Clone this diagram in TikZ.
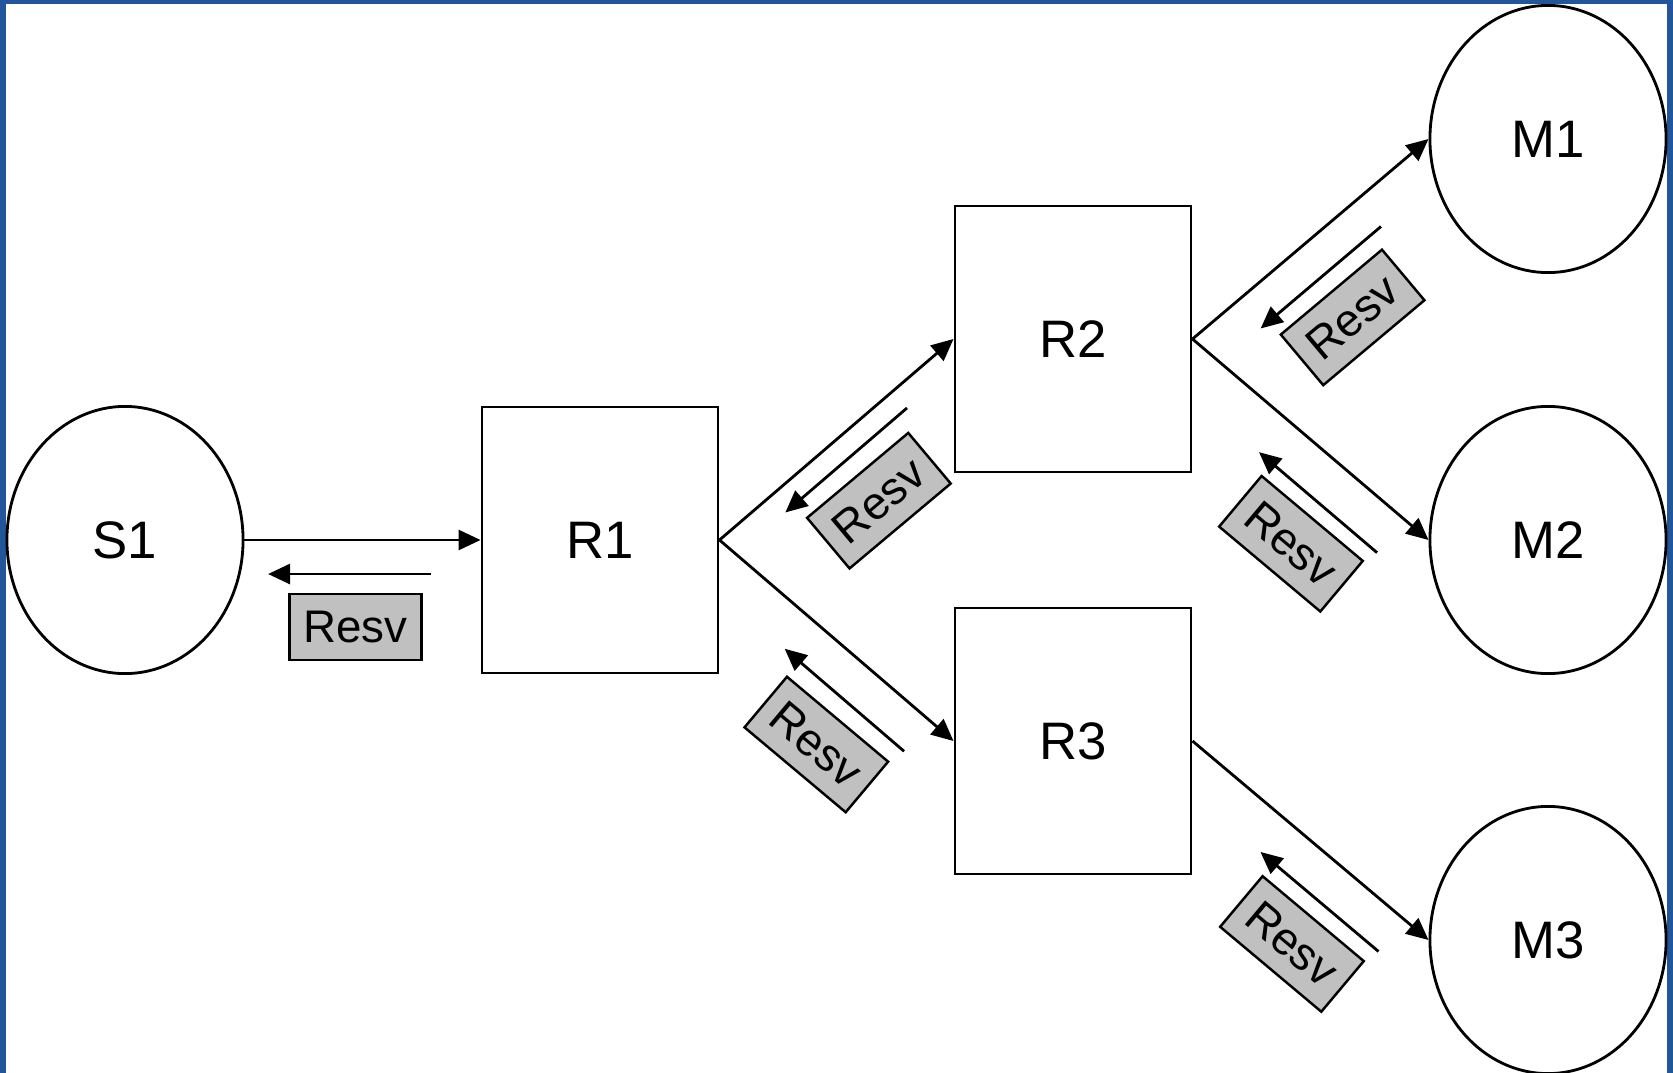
\documentclass[tikz,border=0pt]{standalone}
\usepackage{fontspec}
\setmainfont{Liberation Sans}
\usetikzlibrary{shapes.geometric,arrows.meta,calc}
\definecolor{FrameBlue}{HTML}{22559A}
\definecolor{ResvGray}{HTML}{C0C0C0}

\begin{document}
\begin{tikzpicture}[
  x=0.01cm,y=-0.01cm,
  host/.style={ellipse,draw,line width=0.8pt,minimum width=2.36cm,minimum height=2.67cm,
               inner sep=0pt,font=\fontsize{15}{18}\selectfont},
  router/.style={rectangle,draw,line width=0.8pt,minimum width=2.36cm,minimum height=2.66cm,
                 inner sep=0pt,font=\fontsize{15}{18}\selectfont},
  resv/.style={rectangle,draw,fill=ResvGray,line width=0.7pt,minimum width=1.32cm,
               minimum height=0.66cm,inner sep=0pt,font=\fontsize{13}{15}\selectfont},
  link/.style={line width=0.8pt,-{Triangle[length=0.22cm,width=0.2cm]}}
]
% frame
\fill[FrameBlue] (0,0) rectangle (1673,1073);
\fill[white] (6,4) rectangle (1667,1073);
\useasboundingbox (0,0) rectangle (1673,1073);

% sender, routers, receivers
\node[host] (s1) at (125,540) {S1};
\node[router] (r1) at (600,540) {R1};
\node[router] (r2) at (1073,339) {R2};
\node[router] (r3) at (1073,741) {R3};
\node[host] (m1) at (1548,139) {M1};
\node[host] (m2) at (1548,540) {M2};
\node[host] (m3) at (1548,940) {M3};

% path messages
\draw[link] (s1.east) -- (r1.west);
\draw[link] (r1.east) -- (r2.west);
\draw[link] (r1.east) -- (r3.west);
\draw[link] (r2.east) -- (m1.west);
\draw[link] (r2.east) -- (m2.west);
\draw[link] (r3.east) -- (m3.west);

% reservations going back
\draw[link] ($(s1.east)!.79!(r1.west)!0.34cm!-90:(r1.west)$) -- ($(s1.east)!.10!(r1.west)!0.34cm!-90:(r1.west)$);
\node[resv] (q1) at ($(s1.east)!.47!(r1.west)!0.87cm!-90:(r1.west)$) {Resv};

\draw[link] ($(r1.east)!.74!(r2.west)!0.22cm!-90:(r2.west)$) -- ($(r1.east)!.22!(r2.west)!0.22cm!-90:(r2.west)$);
\node[resv,rotate=40] (q2) at ($(r1.east)!.475!(r2.west)!0.74cm!-90:(r2.west)$) {Resv};

\draw[link] ($(r1.east)!.90!(r3.west)!0.40cm!-90:(r3.west)$) -- ($(r1.east)!.39!(r3.west)!0.40cm!-90:(r3.west)$);
\node[resv,rotate=-40] (q3) at ($(r1.east)!.67!(r3.west)!0.92cm!-90:(r3.west)$) {Resv};

\draw[link] ($(r2.east)!.70!(m1.west)!0.36cm!-90:(m1.west)$) -- ($(r2.east)!.19!(m1.west)!0.36cm!-90:(m1.west)$);
\node[resv,rotate=40] (q4) at ($(r2.east)!.44!(m1.west)!0.87cm!-90:(m1.west)$) {Resv};

\draw[link] ($(r2.east)!.90!(m2.west)!0.43cm!-90:(m2.west)$) -- ($(r2.east)!.40!(m2.west)!0.43cm!-90:(m2.west)$);
\node[resv,rotate=-40] (q5) at ($(r2.east)!.67!(m2.west)!0.92cm!-90:(m2.west)$) {Resv};

\draw[link] ($(r3.east)!.90!(m3.west)!0.41cm!-90:(m3.west)$) -- ($(r3.east)!.40!(m3.west)!0.41cm!-90:(m3.west)$);
\node[resv,rotate=-40] (q6) at ($(r3.east)!.67!(m3.west)!0.91cm!-90:(m3.west)$) {Resv};
\end{tikzpicture}
\end{document}
